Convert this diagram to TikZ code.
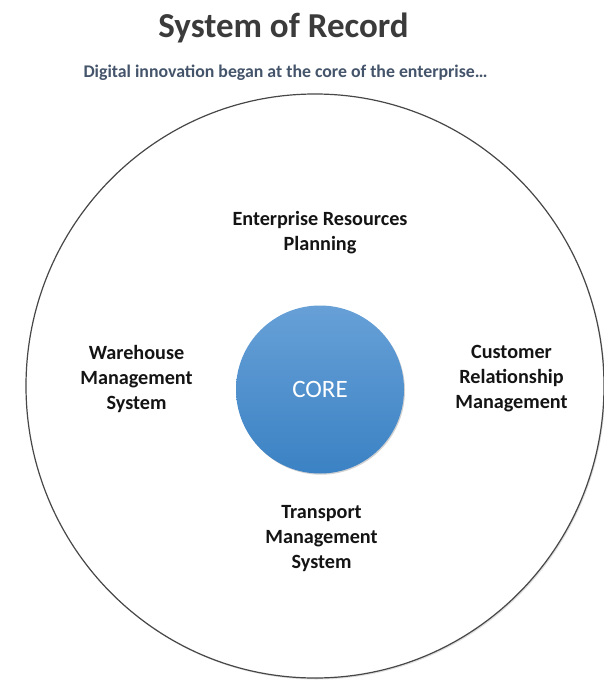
\documentclass[tikz,border=0pt]{standalone}
\usepackage{fontspec}
\setmainfont{Carlito}
\usetikzlibrary{shapes.geometric,shadows}
\definecolor{coretop}{HTML}{67A0D7}
\definecolor{corebottom}{HTML}{3B82C4}
\definecolor{titlegray}{HTML}{3B3B3B}
\definecolor{subslate}{HTML}{44546A}
\tikzset{
	sysname/.style={align=center, text=black!92, font=\fontsize{20.2}{25}\selectfont\bfseries},
}
\begin{document}
\begin{tikzpicture}[x=1pt, y=-1pt]
	\useasboundingbox (0,0) rectangle (603,682);
	
	\node[anchor=base, text=titlegray, font=\fontsize{35}{40}\selectfont\bfseries] (title) at (283.5,38) {System of Record};
	\node[anchor=base, text=subslate, font=\fontsize{17.8}{20}\selectfont\bfseries] (subtitle) at (285.5,78) {Digital innovation began at the core of the enterprise…};
	
	\node[ellipse, draw=black!72, line width=1.2pt, fill=white, minimum width=578pt, minimum height=584pt, inner sep=0pt,
		drop shadow={shadow xshift=1.2pt, shadow yshift=-1.5pt, opacity=0.25}] (ring) at (315,386) {};
	\node[circle, minimum size=168pt, inner sep=0pt, top color=coretop, bottom color=corebottom,
		drop shadow={shadow xshift=1pt, shadow yshift=-1.2pt, opacity=0.35},
		text=white, font=\fontsize{25}{30}\selectfont] (core) at (320,389.5) {CORE};
	
	\node[sysname] (erp) at (320,232.5) {Enterprise Resources\\Planning};
	\node[sysname] (wms) at (136.5,379) {Warehouse\\Management\\System};
	\node[sysname] (crm) at (511.5,379) {Customer\\Relationship\\Management};
	\node[sysname] (tms) at (321.5,539) {Transport\\Management\\System};
\end{tikzpicture}
\end{document}
